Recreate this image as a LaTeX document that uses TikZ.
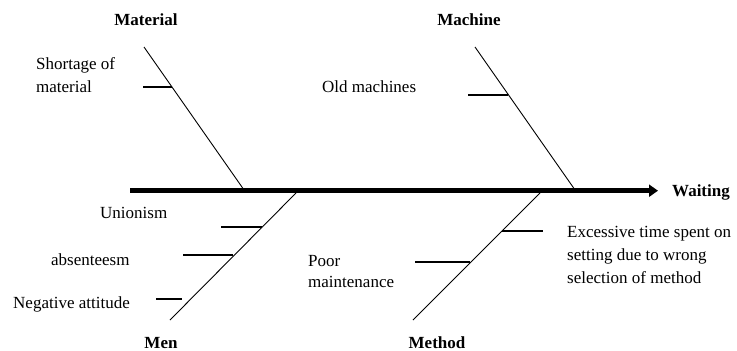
\documentclass[tikz,border=0pt]{standalone}
\usepackage{fontspec}
\setmainfont{Liberation Serif}
\usetikzlibrary{arrows.meta}
\begin{document}
\begin{tikzpicture}[x=1pt,y=-1pt,
  lbl/.style={inner sep=0pt,anchor=base west,font=\fontsize{17}{23}\selectfont,align=left},
  head/.style={inner sep=0pt,anchor=base,font=\fontsize{17}{23}\selectfont\bfseries},
  bone/.style={line width=0.9pt},
  tick/.style={line width=1.1pt},
  spine/.style={line width=4.8pt,-{Triangle[length=9pt,width=12pt]}}]
\useasboundingbox (0,0) rectangle (737,351);
% spine
\coordinate (sp0) at (130,190.7);
\coordinate (sp1) at (658,190.7);
\node[head,anchor=base west] (waiting) at (672,196) {Waiting};
\draw[spine] (sp0) -- (sp1);
% bones
\coordinate (matT) at (144,47);   \coordinate (matB) at (243,188.5);
\coordinate (macT) at (475,47);   \coordinate (macB) at (574,188.5);
\coordinate (menT) at (296,193);  \coordinate (menB) at (170,320);
\coordinate (metT) at (540,193);  \coordinate (metB) at (413,320);
\draw[bone] (matT) -- (matB);
\draw[bone] (macT) -- (macB);
\draw[bone] (menT) -- (menB);
\draw[bone] (metT) -- (metB);
% ticks
\coordinate (t1a) at (143,87);  \coordinate (t1b) at (172,87);
\coordinate (t2a) at (468,95);  \coordinate (t2b) at (508,95);
\coordinate (t3a) at (221,227); \coordinate (t3b) at (262,227);
\coordinate (t4a) at (183,255); \coordinate (t4b) at (233,255);
\coordinate (t5a) at (156,299); \coordinate (t5b) at (182,299);
\coordinate (t6a) at (502,231); \coordinate (t6b) at (543,231);
\coordinate (t7a) at (415,262); \coordinate (t7b) at (470,262);
\draw[tick] (t1a) -- (t1b);
\draw[tick] (t2a) -- (t2b);
\draw[tick] (t3a) -- (t3b);
\draw[tick] (t4a) -- (t4b);
\draw[tick] (t5a) -- (t5b);
\draw[tick] (t6a) -- (t6b);
\draw[tick] (t7a) -- (t7b);
% headings
\node[head] (material) at (146,25) {Material};
\node[head] (machine) at (469,25) {Machine};
\node[head] (men) at (161,348) {Men};
\node[head] (method) at (437,348) {Method};
% cause labels
\node[lbl] (shortage) at (36,69) {Shortage of};
\node[lbl] (shortage2) at (36,92) {material};
\node[lbl] (oldmach) at (322,92) {Old machines};
\node[lbl] (unionism) at (100,218) {Unionism};
\node[lbl] (absent) at (51,265) {absenteesm};
\node[lbl] (negative) at (13,308) {Negative attitude};
\node[lbl] (poor) at (308,266) {Poor};
\node[lbl] (poor2) at (308,287) {maintenance};
\node[lbl] (exc1) at (567,237) {Excessive time spent on};
\node[lbl] (exc2) at (567,260) {setting due to wrong};
\node[lbl] (exc3) at (567,283) {selection of method};
\end{tikzpicture}
\end{document}
